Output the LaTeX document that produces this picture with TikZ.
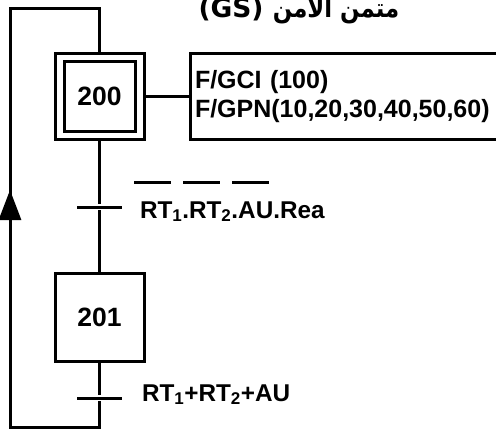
\documentclass[tikz,border=0pt]{standalone}
\usepackage{fontspec}
\setmainfont{Liberation Sans}
\newfontfamily\arabicfont[Script=Arabic]{DejaVu Sans}
\TeXXeTstate=1
\usetikzlibrary{arrows.meta, positioning}

% bar drawn high above a group of letters
\newcommand\hibar[1]{\rlap{\kern-6pt\rule[34pt]{37pt}{2.8pt}}#1}

\begin{document}
\begin{tikzpicture}[x=1pt, y=-1pt, line width=3pt]

% --- Styles ---
\tikzset{
    etape/.style={draw, minimum width=71pt, minimum height=70pt, inner sep=0pt,
        font=\fontsize{26.5}{30}\selectfont\bfseries},
    transbar/.style={fill=black, minimum width=45pt, minimum height=3pt, inner sep=0pt},
    recept/.style={anchor=base west, inner sep=0pt, font=\fontsize{24.3}{28}\selectfont\bfseries}
}
\def\loopx{10}

\useasboundingbox (0,0) rectangle (496,434);

% title (cut at the top)
\node[anchor=base west, inner sep=0pt, font=\arabicfont\fontsize{26.5}{30}\selectfont\bfseries] (titre) at (197,17)
    {(GS) \scalebox{0.86}[1]{\beginR متمن الأمن\endR}};

% 1. Initial step 200
\node[etape] (s200) at (99.5,96.5) {200};
\node[draw, minimum width=89pt, minimum height=86pt, inner sep=0pt] (s200out) at (s200) {};

% 2. Actions of step 200
\node[draw, anchor=west, minimum width=330pt, minimum height=86pt, inner sep=2pt,
      text width=320pt, align=left, font=\fontsize{25}{29}\selectfont\bfseries] (act) at (188.5,96.5)
    {F/GCI (100)\\F/GPN(10,20,30,40,50,60)};
\draw (s200out.east) -- (act.west);

% 3. Transition 1 and step 201
\node[transbar] (t1) at (99.5,207) {};
\node[etape, minimum width=89pt, minimum height=88pt] (s201) at (99.5,317.5) {201};
\node[transbar] (t2) at (99.5,398) {};

\node[recept] (r1) at ([xshift=15pt, yshift=-11pt]t1.east)
    {\hibar{RT\textsubscript{1}}.\hibar{RT\textsubscript{2}}.\hibar{AU}.Rea};
\node[recept] (r2) at ([xshift=17pt, yshift=-3pt]t2.east)
    {RT\textsubscript{1}+RT\textsubscript{2}+AU};

% 4. Links
\draw (s200out.south) -- (t1) -- (s201.north);
\draw (s201.south) -- (t2);

% 5. Return loop
\coordinate (bl) at (\loopx,427);
\coordinate (tl) at (\loopx,8);
\coordinate (pointe) at (\loopx,190);
\draw (t2) -- (t2 |- bl) -- (bl) -- (tl) -| (s200out.north);
\draw[-{Triangle[width=22pt, length=30pt]}] (bl) -- (pointe);

\end{tikzpicture}
\end{document}
